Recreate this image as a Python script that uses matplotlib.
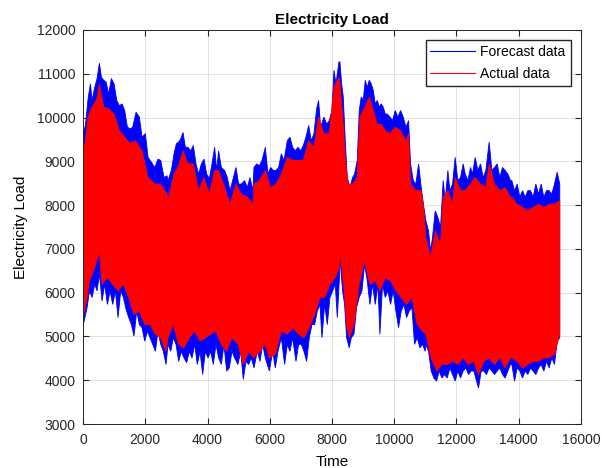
import matplotlib
matplotlib.use("Agg")
import numpy as np
import matplotlib.pyplot as plt
from matplotlib.lines import Line2D

plt.rcParams["font.family"] = ["Liberation Sans", "DejaVu Sans"]

# The hourly series is far too dense to read point by point, so the upper and
# lower envelopes of each series were read off the picture instead.

# forecast data, upper envelope
fc_hi_t = [0, 75, 161, 236, 289, 375, 450, 525, 589, 664, 739, 824, 910, 996, 1081, 1167,
           1253, 1338, 1424, 1520, 1595, 1702, 1809, 1895, 2002, 2088, 2195, 2302, 2409,
           2495, 2602, 2698, 2730, 2837, 2923, 2998, 3073, 3137, 3212, 3287, 3372, 3458,
           3544, 3629, 3715, 3801, 3886, 3972, 4058, 4143, 4229, 4293, 4357, 4443, 4550,
           4636, 4722, 4807, 4914, 5000, 5086, 5193, 5278, 5364, 5460, 5493, 5579, 5664,
           5750, 5857, 5943, 6028, 6114, 6200, 6285, 6371, 6457, 6564, 6649, 6735, 6821,
           6906, 6992, 7078, 7163, 7249, 7335, 7420, 7506, 7570, 7634, 7741, 7827, 7913,
           7998, 8063, 8127, 8223, 8255, 8309, 8362, 8426, 8491, 8576, 8662, 8726, 8812,
           8876, 8940, 9004, 9069, 9133, 9197, 9261, 9326, 9390, 9454, 9518, 9583, 9647,
           9711, 9775, 9861, 9947, 10032, 10118, 10204, 10289, 10375, 10461, 10525, 10611,
           10696, 10782, 10868, 10953, 11017, 11103, 11167, 11231, 11317, 11402, 11488,
           11574, 11638, 11724, 11788, 11874, 11959, 12045, 12131, 12216, 12280, 12366,
           12452, 12516, 12602, 12687, 12773, 12859, 12944, 13051, 13137, 13223, 13308,
           13394, 13480, 13565, 13651, 13737, 13780, 13866, 13951, 14037, 14123, 14208,
           14294, 14380, 14465, 14551, 14637, 14722, 14808, 14893, 14979, 15065, 15150,
           15236, 15320]
fc_hi = [9630, 9820, 10430, 10770, 10390, 10690, 10890, 11240, 10920, 10850, 10810, 10540,
         10890, 10770, 10390, 10270, 10310, 10160, 9780, 9740, 9780, 10120, 10010, 9550,
         9630, 9090, 8980, 8860, 9050, 9020, 8630, 8670, 8560, 8790, 9170, 9400, 9440, 9510,
         9660, 9320, 9320, 9240, 9360, 8940, 8710, 8940, 9050, 8710, 8600, 8940, 9320, 8790,
         9240, 8860, 8790, 8630, 8330, 8560, 8860, 8480, 8480, 8560, 8400, 8630, 8330, 8860,
         8940, 8900, 9020, 9320, 8710, 8860, 8790, 8790, 8860, 9170, 9020, 9470, 9550, 9320,
         9240, 9320, 9240, 9360, 9550, 9820, 9470, 9630, 10200, 10390, 9780, 10010, 9850,
         9930, 10160, 11080, 10770, 11270, 11270, 10770, 10470, 9470, 8630, 8400, 8630, 8710,
         9020, 10160, 10470, 10390, 10850, 10690, 10850, 10770, 10620, 10310, 10390, 10240,
         10310, 10240, 10080, 10080, 10010, 9930, 10160, 10010, 10160, 10010, 9780, 9930,
         8940, 8560, 8480, 8940, 8400, 7950, 7640, 7410, 6950, 7260, 7870, 7720, 7490, 8560,
         8100, 8790, 8330, 8480, 9090, 8560, 8630, 8940, 8710, 8560, 8860, 8710, 9090, 8790,
         8940, 8630, 8790, 9440, 8790, 8860, 8940, 8630, 8860, 8790, 8710, 8560, 8560, 8330,
         8480, 8180, 8330, 8180, 8330, 8330, 8180, 8480, 8250, 8480, 8180, 8330, 8330, 8250,
         8480, 8750, 8480]

# forecast data, lower envelope
fc_lo_t = [0, 129, 204, 289, 375, 450, 525, 610, 696, 782, 867, 953, 1039, 1124, 1210,
           1296, 1381, 1467, 1553, 1638, 1724, 1810, 1895, 1981, 2067, 2152, 2238, 2324,
           2409, 2495, 2580, 2666, 2730, 2816, 2901, 2987, 3073, 3158, 3244, 3330, 3415,
           3501, 3587, 3672, 3758, 3844, 3929, 4015, 4100, 4186, 4272, 4357, 4443, 4529,
           4614, 4700, 4786, 4871, 4978, 5064, 5150, 5235, 5321, 5407, 5493, 5600, 5686,
           5771, 5857, 5986, 6093, 6178, 6264, 6371, 6478, 6564, 6649, 6735, 6842, 6928,
           7013, 7099, 7185, 7270, 7356, 7442, 7527, 7613, 7677, 7763, 7849, 7934, 8020,
           8105, 8170, 8234, 8255, 8341, 8405, 8469, 8555, 8619, 8705, 8790, 8876, 8962,
           9047, 9133, 9219, 9304, 9390, 9476, 9540, 9625, 9711, 9797, 9882, 9968, 10054,
           10139, 10225, 10311, 10396, 10482, 10568, 10653, 10739, 10825, 10910, 10996,
           11017, 11103, 11188, 11274, 11360, 11445, 11531, 11617, 11702, 11788, 11874,
           11959, 12045, 12131, 12216, 12302, 12388, 12473, 12559, 12645, 12709, 12794,
           12880, 12966, 13051, 13137, 13223, 13308, 13394, 13480, 13565, 13651, 13737,
           13780, 13866, 13951, 14037, 14123, 14208, 14294, 14380, 14465, 14551, 14637,
           14722, 14808, 14893, 14979, 15065, 15150, 15236, 15320]
fc_lo = [5240, 5660, 6040, 5890, 6190, 6040, 6420, 5810, 6190, 5730, 6040, 5730, 6040, 5430,
         6040, 5890, 5620, 5430, 5270, 5010, 5580, 5270, 5200, 4890, 5120, 4970, 4820, 4660,
         5120, 4820, 4660, 4360, 4820, 4660, 4970, 4820, 4430, 4660, 4510, 4400, 4660, 4510,
         4820, 4360, 4660, 4130, 4660, 4510, 4660, 4360, 4820, 4510, 4360, 4820, 4210, 4280,
         4660, 4510, 4360, 4660, 4020, 4430, 4360, 4510, 4280, 4660, 4430, 4820, 4510, 4210,
         4660, 4280, 4660, 4970, 4360, 4820, 4660, 4970, 4430, 4820, 4820, 4660, 4430, 4970,
         5270, 5270, 5580, 5730, 4970, 5730, 5270, 5890, 6040, 6190, 5430, 6270, 6800, 6040,
         5730, 4970, 4740, 4970, 5050, 5660, 5890, 6040, 6650, 6270, 5730, 6190, 5730, 6190,
         5050, 6190, 5890, 6040, 5730, 6040, 5580, 5200, 5580, 5730, 5430, 5580, 5660, 4820,
         4970, 4740, 4820, 4660, 4820, 4660, 4210, 4050, 3980, 4210, 4050, 4130, 4050, 4280,
         4130, 3980, 4210, 4050, 4210, 4280, 4130, 4210, 4210, 3980, 3820, 4210, 4210, 4130,
         4280, 4210, 4130, 4210, 4280, 4130, 4050, 4210, 4360, 4360, 3980, 4280, 4210, 4050,
         4210, 4130, 4280, 4210, 4130, 4280, 4360, 4210, 4430, 4280, 4510, 4360, 4890, 4970]

# actual data, upper envelope
ac_hi_t = [0, 161, 289, 450, 525, 664, 824, 996, 1167, 1338, 1520, 1681, 1895, 2088, 2302,
           2495, 2698, 2730, 2923, 3051, 3212, 3372, 3544, 3715, 3886, 4058, 4229, 4357,
           4550, 4722, 4914, 5086, 5278, 5460, 5493, 5664, 5857, 6028, 6200, 6371, 6564,
           6735, 6906, 7078, 7249, 7420, 7570, 7741, 7913, 8063, 8223, 8255, 8362, 8426,
           8512, 8662, 8812, 8897, 9069, 9197, 9326, 9454, 9583, 9711, 9861, 10032, 10204,
           10375, 10461, 10525, 10696, 10868, 10953, 11017, 11167, 11317, 11488, 11574,
           11724, 11874, 11959, 12131, 12280, 12452, 12602, 12773, 12944, 13051, 13223,
           13394, 13565, 13737, 13780, 13951, 14123, 14294, 14465, 14637, 14808, 14979,
           15150, 15320]
ac_hi = [9020, 10010, 10240, 10430, 10770, 10240, 10200, 10080, 9700, 9550, 9400, 9470,
         9240, 8630, 8480, 8480, 8250, 8100, 8710, 8860, 9240, 8940, 8940, 8330, 8630, 8250,
         8790, 8790, 8400, 8020, 8480, 8250, 8180, 8020, 8480, 8560, 8790, 8400, 8480, 8710,
         9090, 9020, 9020, 9020, 9470, 9320, 10010, 9630, 9630, 10690, 10920, 10770, 9850,
         9090, 8480, 8480, 8630, 10010, 10240, 10470, 10160, 9850, 9850, 9700, 9630, 9780,
         9700, 9470, 9630, 8480, 8330, 8330, 7870, 7260, 6800, 7410, 7110, 8180, 8330, 8020,
         8630, 8330, 8330, 8480, 8630, 8480, 8400, 8940, 8480, 8330, 8400, 8180, 8180, 8020,
         7950, 7870, 7950, 8020, 7950, 8020, 8020, 8100]

# actual data, lower envelope
ac_lo_t = [0, 129, 204, 375, 525, 610, 782, 953, 1124, 1296, 1467, 1638, 1810, 1981, 2152,
           2324, 2495, 2666, 2730, 2901, 3073, 3244, 3415, 3587, 3758, 3929, 4100, 4272,
           4443, 4614, 4786, 4978, 5150, 5321, 5493, 5686, 5857, 5986, 6178, 6371, 6564,
           6735, 6928, 7099, 7270, 7442, 7613, 7763, 7934, 8105, 8234, 8255, 8405, 8469,
           8555, 8705, 8876, 9047, 9219, 9390, 9540, 9711, 9882, 10054, 10225, 10396, 10568,
           10739, 10910, 11017, 11188, 11360, 11531, 11702, 11874, 12045, 12216, 12388,
           12559, 12709, 12880, 13051, 13223, 13394, 13565, 13737, 13780, 13951, 14123,
           14294, 14465, 14637, 14808, 14979, 15150, 15320]
ac_lo = [5430, 5890, 6270, 6570, 6950, 6190, 6340, 6190, 6040, 6190, 5890, 5500, 5580, 5270,
         5270, 5050, 4970, 4660, 4970, 5270, 4820, 4740, 4970, 5120, 4890, 4970, 5050, 5120,
         4820, 4660, 4970, 4820, 4360, 4660, 4510, 4660, 4820, 4510, 4590, 5120, 5050, 5200,
         5050, 4970, 5200, 5500, 5890, 5890, 6190, 6340, 6570, 6950, 5960, 5270, 4970, 5270,
         6190, 6730, 6190, 6270, 6040, 6340, 6270, 6040, 5890, 5730, 5890, 5270, 5120, 5050,
         4510, 4210, 4360, 4360, 4430, 4360, 4510, 4360, 4430, 4130, 4430, 4510, 4360, 4510,
         4280, 4510, 4510, 4430, 4280, 4360, 4430, 4430, 4510, 4510, 4590, 5050]


def band(ax, t_hi, v_hi, t_lo, v_lo, color):
    xs = np.concatenate([t_hi, t_lo[::-1]])
    ys = np.concatenate([v_hi, v_lo[::-1]])
    ax.fill(xs, ys, color=color, lw=0.6)


fig = plt.figure(figsize=(6.02, 4.68), dpi=100)
ax = fig.add_axes([0.138, 0.094, 0.827, 0.842])

band(ax, fc_hi_t, fc_hi, fc_lo_t, fc_lo, "blue")
band(ax, ac_hi_t, ac_hi, ac_lo_t, ac_lo, "red")

ax.set_xlim(0, 16000)
ax.set_ylim(3000, 12000)
ax.set_xticks(range(0, 16001, 2000))
ax.set_yticks(range(3000, 12001, 1000))
ax.grid(True, color="#dcdcdc", lw=0.6)
ax.set_axisbelow(True)
ax.tick_params(direction="in", top=True, right=True, labelsize=10, length=4, colors="#262626")
ax.tick_params(axis="x", pad=6.5)
ax.tick_params(axis="y", pad=5.5)
for s in ax.spines.values():
    s.set_color("#262626")
    s.set_linewidth(0.7)

ax.set_title("Electricity Load", fontsize=11, fontweight="bold", pad=4)
ax.set_xlabel("Time", fontsize=11, labelpad=6)
ax.set_ylabel("Electricity Load", fontsize=11, labelpad=6.5)

handles = [Line2D([0], [0], color="blue", lw=0.8), Line2D([0], [0], color="red", lw=0.8)]
ax.legend(handles, ["Forecast data", "Actual data"], loc="upper right", fontsize=10,
          fancybox=False, edgecolor="#262626", framealpha=1, handlelength=3.2,
          borderaxespad=0.75, labelspacing=0.55, borderpad=0.35, handletextpad=0.4)

fig.savefig("out.png", dpi=100)
